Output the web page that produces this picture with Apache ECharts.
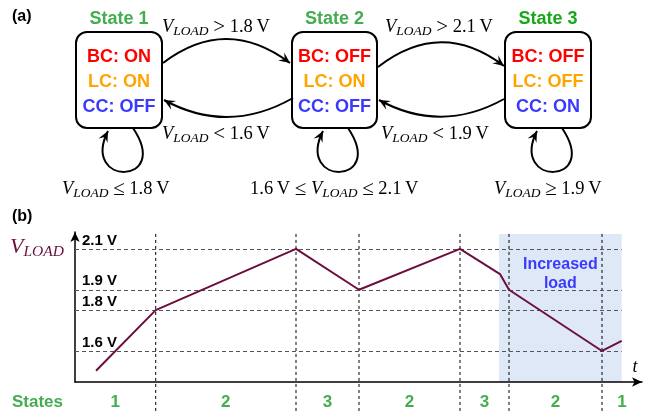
<!DOCTYPE html>
<html>
<head>
<meta charset="utf-8">
<script src="https://cdn.jsdelivr.net/npm/echarts@6/dist/echarts.min.js"></script>
<style>
  html, body { margin: 0; padding: 0; background: #fff; }
  #c { width: 652px; height: 414px; }
</style>
</head>
<body>
<div id="c"></div>
<script>
// V_LOAD trace: time (arbitrary units) and voltage
const tPoints = [2.1, 8.07, 22.1, 28.4, 38.5, 42.5, 43.4, 52.7, 54.67];
const vLoad   = [1.503, 1.8, 2.1, 1.9, 2.1, 1.977, 1.9, 1.6, 1.65];

// threshold voltages (dashed guides + tick labels)
const thresholds = [1.6, 1.8, 1.9, 2.1];

// state changes along the time axis and the state held in each interval
const stateBounds = [8.07, 22.1, 28.4, 38.5, 43.4, 52.7];
const stateSeq = ['1', '2', '3', '2', '3', '2', '1'];

// interval with increased load
const loadStart = 42.4;
const loadEnd = 54.67;

// state machine content
const stateNames = ['State 1', 'State 2', 'State 3'];
const bcState = ['ON', 'OFF', 'OFF'];
const lcState = ['ON', 'ON', 'OFF'];
const ccState = ['OFF', 'OFF', 'ON'];

const T_MAX = 56.7;
const V_MIN = 1.448;
const V_MAX = 2.183;
const V_TOP = 2.1735;

const SANS = '"Liberation Sans", Arial, sans-serif';
const SERIF = '"Liberation Serif", "DejaVu Serif", serif';
const GREEN = '#44ad50';
const GREEN3 = '#17a817';
const RED = '#ff0000';
const ORANGE = '#ffa500';
const BLUE = '#3a3aff';
const TRACE = '#6b0f3f';

const THIN = '\u2009';
const VL = '{v|V}{s|LOAD}';
const rel = sym => '{n| }{r|' + sym + '}{n| }';
const volt = txt => '{n|' + txt + THIN + 'V}';

const chart = echarts.init(document.getElementById('c'), null, { renderer: 'canvas' });

chart.setOption({
  animation: false,
  grid: { left: 75, right: 10, top: 232, bottom: 32 },
  xAxis: {
    type: 'value', min: 0, max: T_MAX,
    axisLine: { lineStyle: { color: '#000', width: 1.5 }, symbol: ['none', 'arrow'], symbolSize: [7, 10] },
    axisTick: { show: false }, axisLabel: { show: false }, splitLine: { show: false },
    name: 't', nameLocation: 'end', nameGap: -7,
    nameTextStyle: { fontFamily: SERIF, fontStyle: 'italic', fontSize: 18, color: '#000',
      align: 'center', verticalAlign: 'bottom', padding: [0, 0, 6, 0] }
  },
  yAxis: {
    type: 'value', min: V_MIN, max: V_MAX,
    axisLine: { show: true, lineStyle: { color: '#000', width: 1.5 }, symbol: ['none', 'arrow'], symbolSize: [7, 10] },
    axisTick: { show: false }, splitLine: { show: false },
    axisLabel: {
      inside: true, customValues: thresholds, margin: 7,
      formatter: v => v.toFixed(1) + ' V',
      fontFamily: SANS, fontWeight: 'bold', fontSize: 15, color: '#000',
      verticalAlign: 'bottom', padding: [0, 0, 1, 0]
    }
  },
  series: [{
    type: 'line', z: 5,
    data: tPoints.map((t, i) => [t, vLoad[i]]),
    symbol: 'none', showSymbol: false,
    lineStyle: { color: TRACE, width: 2 },
    markLine: {
      silent: true, symbol: 'none', label: { show: false },
      lineStyle: { type: [4, 3], color: '#555', width: 1.2 },
      data: thresholds.map(v => [{ coord: [0, v] }, { coord: [loadEnd, v] }])
    }
  }]
});

function px(t, v) { return chart.convertToPixel({ gridIndex: 0 }, [t, v]); }

function arrowHead(tipX, tipY, fromX, fromY) {
  const len = 11, half = 5;
  const a = Math.atan2(tipY - fromY, tipX - fromX);
  const c = Math.cos(a), s = Math.sin(a);
  const bx = tipX - len * c, by = tipY - len * s;
  const nx = tipX - len * 0.6 * c, ny = tipY - len * 0.6 * s;
  return {
    type: 'polygon', z: 20,
    shape: { points: [[tipX, tipY], [bx - half * s, by + half * c], [nx, ny], [bx + half * s, by - half * c]] },
    style: { fill: '#000' }
  };
}

function quadArrow(x1, y1, cx, cy, x2, y2) {
  return [
    { type: 'bezierCurve', z: 19, shape: { x1, y1, x2, y2, cpx1: cx, cpy1: cy },
      style: { fill: 'none', stroke: '#000', lineWidth: 2 } },
    arrowHead(x2, y2, cx, cy)
  ];
}

function loopArrow(dx) {
  const x1 = 133 + dx, y1 = 128, x2 = 108 + dx, y2 = 131;
  const c1x = 172 + dx, c1y = 186, c2x = 80 + dx, c2y = 186;
  return [
    { type: 'bezierCurve', z: 19, shape: { x1, y1, x2, y2, cpx1: c1x, cpy1: c1y, cpx2: c2x, cpy2: c2y },
      style: { fill: 'none', stroke: '#000', lineWidth: 2 } },
    arrowHead(x2, y2, c2x, c2y)
  ];
}

function mathLabel(x, y, markup) {
  const n = { fontFamily: SERIF, fontSize: 18.5, lineHeight: 22, fill: '#000' };
  return {
    type: 'text', x, y, z: 20,
    style: {
      text: markup,
      rich: {
        n: n,
        r: Object.assign({}, n, { fontSize: 21 }),
        v: Object.assign({}, n, { fontStyle: 'italic' }),
        s: { fontFamily: SERIF, fontStyle: 'italic', fontSize: 13.5, lineHeight: 13, verticalAlign: 'bottom', fill: '#000' }
      },
      align: 'left', verticalAlign: 'middle'
    }
  };
}

function stateBox(i, x, w) {
  const cx = x + w / 2;
  const t = (txt, y, color, size) => ({
    type: 'text', x: cx, y, z: 20,
    style: { text: txt, fill: color, font: 'bold ' + size + 'px ' + SANS, align: 'center', verticalAlign: 'middle' }
  });
  return [
    { type: 'rect', z: 18, shape: { x, y: 32, width: w, height: 96, r: 11 },
      style: { fill: '#fff', stroke: '#000', lineWidth: 2 } },
    t(stateNames[i], 19, i === 2 ? GREEN3 : GREEN, 18),
    t('BC: ' + bcState[i], 57, RED, 18),
    t('LC: ' + lcState[i], 82, ORANGE, 18),
    t('CC: ' + ccState[i], 107, BLUE, 18)
  ];
}

const g = [];

// panel tags
g.push({ type: 'text', x: 12, y: 17, z: 20, style: { text: '(a)', font: 'bold 16px ' + SANS, fill: '#000', verticalAlign: 'middle' } });
g.push({ type: 'text', x: 12, y: 217, z: 20, style: { text: '(b)', font: 'bold 16px ' + SANS, fill: '#000', verticalAlign: 'middle' } });

// state machine
g.push(...stateBox(0, 76, 86), ...stateBox(1, 292, 85), ...stateBox(2, 505, 86));
g.push(...quadArrow(163, 63, 226, 15, 290, 63));
g.push(...quadArrow(293, 98, 228, 135, 164, 100));
g.push(...quadArrow(378, 67, 441, 18, 504, 66));
g.push(...quadArrow(504, 99, 441, 134, 379, 100));
g.push(...loopArrow(0), ...loopArrow(215), ...loopArrow(429));

g.push(mathLabel(162, 27, VL + rel('>') + volt('1.8')));
g.push(mathLabel(162, 134, VL + rel('<') + volt('1.6')));
g.push(mathLabel(385, 27, VL + rel('>') + volt('2.1')));
g.push(mathLabel(381, 134, VL + rel('<') + volt('1.9')));
g.push(mathLabel(62, 189, VL + rel('\u2264') + volt('1.8')));
g.push(mathLabel(250, 189, volt('1.6') + rel('\u2264') + VL + rel('\u2264') + volt('2.1')));
g.push(mathLabel(494, 189, VL + rel('\u2265') + volt('1.9')));

// timing diagram: shaded load interval
const pA = px(loadStart, V_TOP), pB = px(loadEnd, V_MIN);
g.push({ type: 'rect', z: 0, shape: { x: pA[0], y: pA[1], width: pB[0] - pA[0], height: pB[1] - pA[1] },
  style: { fill: '#dfe8f7' } });
const mid = (pA[0] + pB[0]) / 2;
g.push({ type: 'text', x: mid, y: 265, z: 20, style: { text: 'Increased', font: 'bold 16px ' + SANS, fill: BLUE, align: 'center', verticalAlign: 'middle' } });
g.push({ type: 'text', x: mid, y: 284, z: 20, style: { text: 'load', font: 'bold 16px ' + SANS, fill: BLUE, align: 'center', verticalAlign: 'middle' } });

// state change markers, running down through the state row
stateBounds.forEach(b => {
  const p = px(b, V_TOP);
  g.push({ type: 'line', z: 3, shape: { x1: p[0], y1: p[1], x2: p[0], y2: 414 },
    style: { stroke: '#000', lineWidth: 1, lineDash: [3, 3] } });
});

// state row
g.push({ type: 'text', x: 12, y: 402, z: 20, style: { text: 'States', font: 'bold 17px ' + SANS, fill: GREEN, verticalAlign: 'middle' } });
const edges = [0].concat(stateBounds, [T_MAX]);
stateSeq.forEach((s, i) => {
  const xm = px((edges[i] + edges[i + 1]) / 2, V_MIN)[0];
  g.push({ type: 'text', x: xm, y: 402, z: 20, style: { text: s, font: 'bold 17px ' + SANS, fill: GREEN, align: 'center', verticalAlign: 'middle' } });
});

// y-axis title
g.push({
  type: 'text', x: 10, y: 247, z: 20,
  style: {
    text: '{v|V}{s|LOAD}',
    rich: {
      v: { fontFamily: SERIF, fontStyle: 'italic', fontSize: 22, lineHeight: 25, fill: TRACE },
      s: { fontFamily: SERIF, fontStyle: 'italic', fontSize: 15.5, lineHeight: 15, verticalAlign: 'bottom', fill: TRACE }
    },
    align: 'left', verticalAlign: 'middle'
  }
});

chart.setOption({ graphic: { elements: g } });
</script>
</body>
</html>
